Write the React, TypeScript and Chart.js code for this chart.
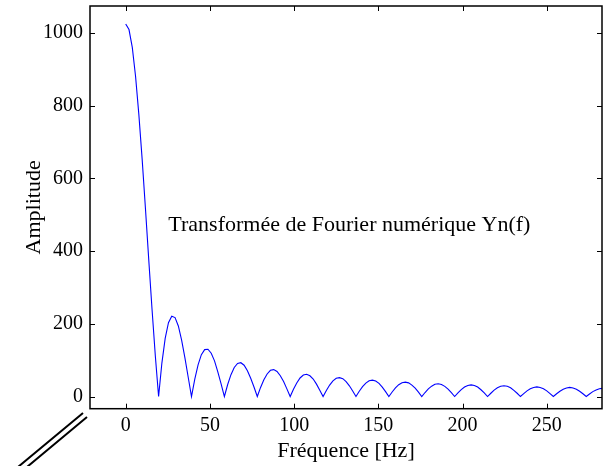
import React, { useEffect, useRef } from "react";
import { Chart, registerables } from "chart.js";

Chart.register(...registerables);

// Frequency samples [Hz], one line per lobe
const freqHz = [
  0, 1.95, 3.91, 5.86, 7.81, 9.77, 11.72, 13.67, 15.63, 17.58, 19.53,
  21.48, 23.44, 25.39, 27.34, 29.3, 31.25, 33.2, 35.16, 37.11, 39.06,
  41.02, 42.97, 44.92, 46.88, 48.83, 50.78, 52.73, 54.69, 56.64, 58.59,
  60.55, 62.5, 64.45, 66.41, 68.36, 70.31, 72.27, 74.22, 76.17, 78.13,
  80.08, 82.03, 83.98, 85.94, 87.89, 89.84, 91.8, 93.75, 95.7, 97.66,
  99.61, 101.56, 103.52, 105.47, 107.42, 109.38, 111.33, 113.28, 115.23, 117.19,
  119.14, 121.09, 123.05, 125.0, 126.95, 128.91, 130.86, 132.81, 134.77, 136.72,
  138.67, 140.63, 142.58, 144.53, 146.48, 148.44, 150.39, 152.34, 154.3, 156.25,
  158.2, 160.16, 162.11, 164.06, 166.02, 167.97, 169.92, 171.88, 173.83, 175.78,
  177.73, 179.69, 181.64, 183.59, 185.55, 187.5, 189.45, 191.41, 193.36, 195.31,
  197.27, 199.22, 201.17, 203.13, 205.08, 207.03, 208.98, 210.94, 212.89, 214.84,
  216.8, 218.75, 220.7, 222.66, 224.61, 226.56, 228.52, 230.47, 232.42, 234.38,
  236.33, 238.28, 240.23, 242.19, 244.14, 246.09, 248.05, 250.0, 251.95, 253.91,
  255.86, 257.81, 259.77, 261.72, 263.67, 265.63, 267.58, 269.53, 271.48, 273.44,
  275.39, 277.34, 279.3, 281.25, 283.2,
];

// Amplitude |Yn(f)|
const amplitude = [
  1024, 1009, 960, 880, 775, 652, 517, 377, 240, 112, 0,
  92, 160, 203, 221, 217, 194, 155, 106, 53, 0,
  48, 87, 115, 129, 130, 119, 98, 68, 35, 0,
  33, 60, 80, 91, 93, 86, 71, 50, 26, 0,
  25, 46, 62, 72, 74, 69, 57, 41, 21, 0,
  20, 37, 51, 59, 61, 57, 48, 34, 17, 0,
  16.5, 31.5, 43, 50, 52, 49, 41, 29.5, 15, 0,
  14.5, 27, 37, 43.5, 45, 42.5, 36, 26, 13.5, 0,
  12.5, 23.5, 32.5, 38, 39.5, 37.5, 31.5, 23, 12, 0,
  11, 21, 28.5, 33.5, 35, 33, 28, 20.5, 10.5, 0,
  10, 19, 26, 30.5, 32, 30.5, 26, 18.5, 10, 0,
  9, 17.5, 24, 28, 29.5, 28, 24, 17, 9, 0,
  8, 15.5, 21.5, 25, 26.5, 25, 21.5, 15.5, 8, 0,
  7.5, 14.5, 20, 23.5, 25, 23.5, 20, 14.5, 7.5, 0,
  7, 13.5, 18, 21.5, 22.5,
];

const xTickValues = [0, 50, 100, 150, 200, 250];
const yTickValues = [0, 200, 400, 600, 800, 1000];
const xTitle = "Fréquence [Hz]";
const yTitle = "Amplitude";
const annotationText = "Transformée de Fourier numérique Yn(f)";

const FONT = "'Liberation Serif', 'Times New Roman', serif";

const framePlugin = {
  id: "matlabFrame",
  afterDraw(chart: any) {
    const { ctx, chartArea: a, scales } = chart;
    ctx.save();
    ctx.strokeStyle = "#000";
    ctx.lineWidth = 1.5;
    ctx.strokeRect(a.left, a.top, a.right - a.left, a.bottom - a.top);

    ctx.lineWidth = 1;
    const L = 5;
    ctx.beginPath();
    xTickValues.forEach((v) => {
      const x = Math.round(scales.x.getPixelForValue(v)) + 0.5;
      ctx.moveTo(x, a.bottom);
      ctx.lineTo(x, a.bottom - L);
      ctx.moveTo(x, a.top);
      ctx.lineTo(x, a.top + L);
    });
    yTickValues.forEach((v) => {
      const y = Math.round(scales.y.getPixelForValue(v)) + 0.5;
      ctx.moveTo(a.left, y);
      ctx.lineTo(a.left + L, y);
      ctx.moveTo(a.right, y);
      ctx.lineTo(a.right - L, y);
    });
    ctx.stroke();

    ctx.fillStyle = "#000";
    ctx.font = `22px ${FONT}`;
    ctx.textAlign = "left";
    ctx.textBaseline = "alphabetic";
    ctx.fillText(
      annotationText,
      scales.x.getPixelForValue(25.3),
      scales.y.getPixelForValue(454)
    );

    // axis-break double stroke at lower left
    ctx.lineWidth = 2;
    ctx.beginPath();
    ctx.moveTo(83, 413);
    ctx.lineTo(18, 467);
    ctx.moveTo(87, 417);
    ctx.lineTo(27, 467);
    ctx.stroke();
    ctx.restore();
  },
};

export default function App() {
  const ref = useRef<HTMLCanvasElement | null>(null);

  useEffect(() => {
    if (!ref.current) return;
    const chart = new Chart(ref.current, {
      type: "line",
      data: {
        datasets: [
          {
            data: freqHz.map((f, i) => ({ x: f, y: amplitude[i] })),
            borderColor: "#0000FF",
            borderWidth: 1.1,
            pointRadius: 0,
            tension: 0,
            fill: false,
          },
        ],
      },
      options: {
        responsive: false,
        animation: false,
        layout: { padding: { top: 6, right: 12, left: 0, bottom: 0 } },
        plugins: {
          legend: { display: false },
          tooltip: { enabled: false },
        },
        scales: {
          x: {
            type: "linear",
            min: -21.2,
            max: 282.8,
            afterBuildTicks: (s: any) => {
              s.ticks = xTickValues.map((v) => ({ value: v }));
            },
            afterFit: (s: any) => {
              s.height = 57.3;
              s.paddingLeft = 0;
              s.paddingRight = 0;
            },
            ticks: {
              color: "#000",
              font: { family: FONT, size: 20 },
              padding: 5,
              maxRotation: 0,
              autoSkip: false,
              callback: (v: any) => String(v),
            },
            grid: { display: false, drawTicks: false },
            border: { display: false },
            title: {
              display: true,
              text: xTitle,
              color: "#000",
              font: { family: FONT, size: 22 },
              padding: { top: 0, bottom: 2 },
            },
          },
          y: {
            type: "linear",
            min: -33.5,
            max: 1073.7,
            afterBuildTicks: (s: any) => {
              s.ticks = yTickValues.map((v) => ({ value: v }));
            },
            afterFit: (s: any) => {
              s.width = 90;
              s.paddingTop = 0;
              s.paddingBottom = 0;
            },
            ticks: {
              color: "#000",
              font: { family: FONT, size: 20 },
              padding: 7,
              autoSkip: false,
              callback: (v: any) => String(v),
            },
            grid: { display: false, drawTicks: false },
            border: { display: false },
            title: {
              display: true,
              text: yTitle,
              color: "#000",
              font: { family: FONT, size: 22 },
              padding: { top: 21, bottom: 0 },
            },
          },
        },
      },
      plugins: [framePlugin],
    });
    return () => chart.destroy();
  }, []);

  return (
    <div style={{ position: "absolute", left: 0, top: 0, width: 614, height: 466, background: "#fff" }}>
      <canvas ref={ref} width={614} height={466} style={{ display: "block" }} />
    </div>
  );
}
